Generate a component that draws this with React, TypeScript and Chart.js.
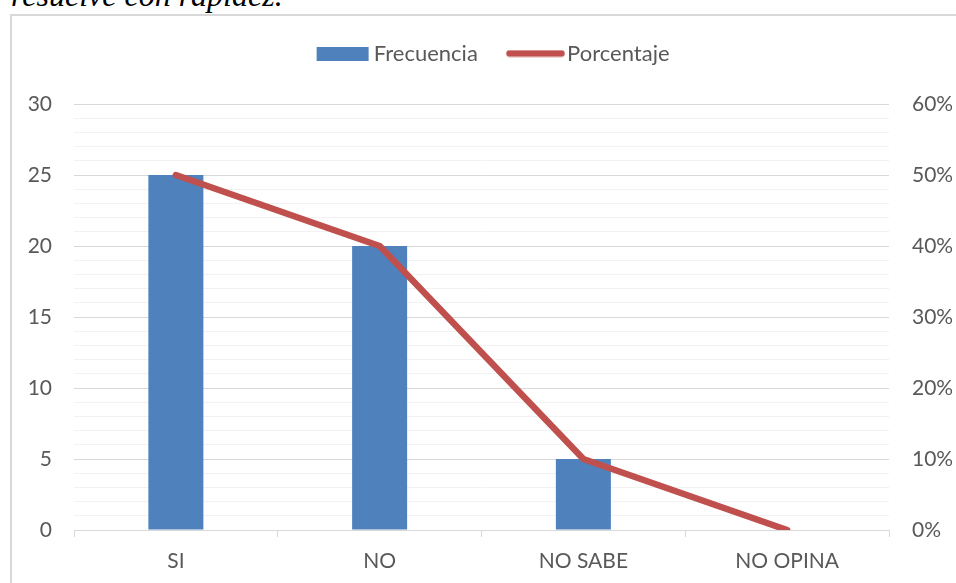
import React, { useEffect, useRef } from 'react';
import { Chart, registerables } from 'chart.js';

Chart.register(...registerables);

const categories = ['SI', 'NO', 'NO SABE', 'NO OPINA'];
const frecuencia = [25, 20, 5, 0];
const porcentaje = [0.5, 0.4, 0.1, 0];
const seriesNames = ['Frecuencia', 'Porcentaje'];
const headingText = 'resuelve con rapidez.';

const BLUE = '#4F81BD';
const RED = '#C0504D';
const TEXT = '#595959';
const FONT = 'Lato';
const FS = 21;
const LEGEND_FS = 22;

function makeBarImg() {
  const c = document.createElement('canvas');
  c.width = 86;
  c.height = 14;
  const g = c.getContext('2d')!;
  g.fillStyle = BLUE;
  g.fillRect(31, 0, 52, 14);
  return c;
}

function makeLineImg() {
  const c = document.createElement('canvas');
  c.width = 86;
  c.height = 8;
  const g = c.getContext('2d')!;
  g.strokeStyle = RED;
  g.lineWidth = 6.5;
  g.lineCap = 'round';
  g.beginPath();
  g.moveTo(30.5, 4);
  g.lineTo(82.5, 4);
  g.stroke();
  return c;
}

export default function App() {
  const ref = useRef<HTMLCanvasElement>(null);

  useEffect(() => {
    if (!ref.current) return;
    const barImg = makeBarImg();
    const lineImg = makeLineImg();
    const chart = new Chart(ref.current, {
      type: 'bar',
      data: {
        labels: categories,
        datasets: [
          {
            type: 'line',
            label: seriesNames[1],
            data: porcentaje,
            yAxisID: 'y1',
            xAxisID: 'x',
            borderColor: RED,
            backgroundColor: RED,
            borderWidth: 6.5,
            pointRadius: 0,
            borderCapStyle: 'round',
            borderJoinStyle: 'round',
            tension: 0,
            order: 0,
          } as any,
          {
            type: 'bar',
            label: seriesNames[0],
            data: frecuencia,
            yAxisID: 'y',
            xAxisID: 'x',
            backgroundColor: BLUE,
            barPercentage: 0.27,
            categoryPercentage: 1,
            order: 1,
          },
        ],
      },
      options: {
        animation: false,
        responsive: false,
        maintainAspectRatio: false,
        layout: { padding: { top: 16.5, left: 0, right: 26, bottom: 0 } },
        plugins: {
          tooltip: { enabled: false },
          legend: {
            position: 'top',
            labels: {
              usePointStyle: true,
              pointStyleWidth: 68.3,
              padding: 10,
              color: TEXT,
              font: { family: FONT, size: LEGEND_FS },
              generateLabels: () => [
                { text: seriesNames[0], pointStyle: barImg as any, fillStyle: BLUE, strokeStyle: BLUE, lineWidth: 0, hidden: false, datasetIndex: 1, fontColor: TEXT },
                { text: seriesNames[1], pointStyle: lineImg as any, fillStyle: RED, strokeStyle: RED, lineWidth: 0, hidden: false, datasetIndex: 0, fontColor: TEXT },
              ],
            },
          },
        },
        scales: {
          spacer: {
            type: 'category',
            position: 'top',
            display: true,
            grid: { display: false },
            border: { display: false },
            ticks: { display: false },
            afterFit: (s: any) => { s.height = 29.5; },
          } as any,
          x: {
            type: 'category',
            position: 'bottom',
            offset: true,
            grid: { offset: true, drawOnChartArea: false, drawTicks: true, tickLength: 7, color: '#D9D9D9' },
            border: { display: true, color: '#D9D9D9', width: 1 },
            ticks: { color: TEXT, font: { family: FONT, size: FS }, padding: 12, maxRotation: 0 },
            afterFit: (s: any) => { s.height = 53; },
          },
          y: {
            type: 'linear',
            position: 'left',
            min: 0,
            max: 30,
            grid: {
              drawTicks: false,
              color: (ctx: any) => (ctx.tick && ctx.tick.value % 5 === 0 ? '#D9D9D9' : '#F2F2F2'),
              lineWidth: 1,
            },
            border: { display: false },
            ticks: {
              stepSize: 1,
              autoSkip: false,
              padding: 22,
              color: TEXT,
              font: { family: FONT, size: FS },
              callback: (v: any) => (Number(v) % 5 === 0 ? String(v) : ''),
            },
            afterFit: (s: any) => { s.width = 62; },
          },
          y1: {
            type: 'linear',
            position: 'right',
            min: 0,
            max: 0.6,
            grid: { drawOnChartArea: false, drawTicks: false },
            border: { display: false },
            ticks: {
              stepSize: 0.1,
              padding: 23,
              color: TEXT,
              font: { family: FONT, size: FS },
              callback: (v: any) => Math.round(Number(v) * 100) + '%',
            },
            afterFit: (s: any) => { s.width = 63; },
          },
        },
      },
    });
    return () => chart.destroy();
  }, []);

  return (
    <div style={{ position: 'fixed', left: 0, top: 0, width: 956, height: 583, overflow: 'hidden', background: '#fff' }}>
      <div
        style={{
          position: 'absolute',
          left: 11,
          top: -21,
          fontFamily: '"Liberation Serif", "Times New Roman", serif',
          fontStyle: 'italic',
          fontSize: 32,
          lineHeight: '32px',
          whiteSpace: 'nowrap',
          color: '#000',
        }}
      >
        {headingText}
      </div>
      <div
        style={{
          position: 'absolute',
          left: 10,
          top: 14,
          width: 1000,
          height: 700,
          border: '2px solid #D9D9D9',
          boxSizing: 'border-box',
        }}
      />
      <canvas
        ref={ref}
        width={966}
        height={567}
        style={{ position: 'absolute', left: 12, top: 16, width: 966, height: 567 }}
      />
    </div>
  );
}
